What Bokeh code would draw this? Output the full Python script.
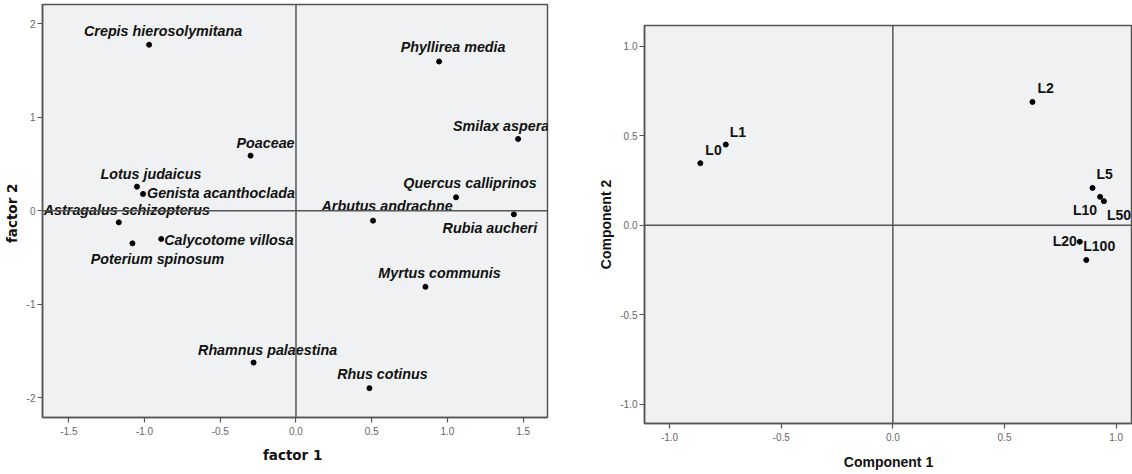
from bokeh.plotting import figure
from bokeh.models import ColumnDataSource, Span, FixedTicker, CustomJSTickFormatter, Range1d, Spacer
from bokeh.layouts import row, column
from bokeh.core.properties import value
from bokeh.embed import file_html
from bokeh.resources import INLINE

# ---------------- data: left panel (species factor scores) ----------------
species = ["Crepis hierosolymitana", "Poaceae", "Lotus judaicus", "Genista acanthoclada",
           "Astragalus schizopterus", "Calycotome  villosa", "Poterium spinosum",
           "Rhamnus palaestina", "Phyllirea media", "Smilax aspera", "Quercus calliprinos",
           "Arbutus andrachne", "Rubia aucheri", "Myrtus communis", "Rhus cotinus"]
factor1 = [-0.97, -0.30, -1.05, -1.01, -1.17, -0.89, -1.08, -0.28, 0.945, 1.467, 1.057,
           0.509, 1.439, 0.855, 0.485]
factor2 = [1.776, 0.589, 0.257, 0.179, -0.125, -0.303, -0.350, -1.626, 1.597, 0.768, 0.143,
           -0.107, -0.039, -0.815, -1.90]
left_xticks = [-1.5, -1.0, -0.5, 0.0, 0.5, 1.0, 1.5]
left_yticks = [-2, -1, 0, 1, 2]

# ---------------- data: right panel (component loadings) ----------------
loadings = ["L0", "L1", "L2", "L5", "L10", "L50", "L20", "L100"]
component1 = [-0.862, -0.748, 0.625, 0.894, 0.928, 0.945, 0.837, 0.866]
component2 = [0.346, 0.450, 0.688, 0.208, 0.158, 0.134, -0.093, -0.195]
right_ticks = [-1.0, -0.5, 0.0, 0.5, 1.0]

# ---------------- label placement (screen px) ----------------
left_dx = [14, 15, 14, 4, 8, 3, 25, 14, 14, -17, 14, 14, -24, 14, 13]
left_dy = [-14, -13, -13, -1, -12, 1, 16, -13, -14, -13, -14, -15, 14, -14, -14]
left_align = ["center", "center", "center", "left", "center", "left", "center", "center",
              "center", "center", "center", "center", "center", "center", "center"]
right_dx = [5, 4, 5, 4, -3, 3, -3, -3]
right_dy = [-13, -13, -14, -14, 13, 14, -1, -14]
right_align = ["left", "left", "left", "left", "right", "left", "right", "left"]

FONT = "Liberation Sans"
BG = "#eff1f2"
LINE = "#555555"


def style(p, xticks, yticks, xfmt, yfmt, xlabel, ylabel, xstand, ystand, lab_font, lab_size):
    p.background_fill_color = BG
    p.border_fill_color = "white"
    p.outline_line_color = LINE
    p.outline_line_width = 1.5
    p.xgrid.visible = False
    p.ygrid.visible = False
    p.xaxis.ticker = FixedTicker(ticks=xticks)
    p.yaxis.ticker = FixedTicker(ticks=yticks)
    p.xaxis.formatter = CustomJSTickFormatter(code=xfmt)
    p.yaxis.formatter = CustomJSTickFormatter(code=yfmt)
    for ax in (p.xaxis[0], p.yaxis[0]):
        ax.axis_line_color = LINE
        ax.axis_line_width = 1.5
        ax.major_tick_line_color = LINE
        ax.major_tick_line_width = 1.2
        ax.major_tick_out = 5
        ax.major_tick_in = 0
        ax.minor_tick_line_color = None
        ax.major_label_text_font = FONT
        ax.major_label_text_font_size = "10px"
        ax.major_label_text_color = "#666666"
        ax.axis_label_text_font = lab_font
        ax.axis_label_text_font_style = "bold"
        ax.axis_label_text_font_size = lab_size
        ax.axis_label_text_color = "#111111"
    p.xaxis.axis_label = xlabel
    p.yaxis.axis_label = ylabel
    p.xaxis.major_label_standoff = 4
    p.yaxis.major_label_standoff = 2
    p.xaxis.axis_label_standoff = xstand
    p.yaxis.axis_label_standoff = ystand
    p.add_layout(Span(location=0, dimension="width", line_color=LINE, line_width=1.5))
    p.add_layout(Span(location=0, dimension="height", line_color=LINE, line_width=1.5))


# ---------------- left figure ----------------
p1 = figure(width=580, height=474, output_backend="svg", toolbar_location=None, title=None,
            x_range=Range1d(-1.674, 1.661), y_range=Range1d(-2.214, 2.207),
            min_border_left=42, min_border_right=33, min_border_top=4, min_border_bottom=57)
style(p1, left_xticks, left_yticks,
      "return tick.toFixed(1);", "return tick.toFixed(0);",
      "factor  1", "factor  2", 9, 4, "DejaVu Sans", "13.5px")
src1 = ColumnDataSource(dict(x=factor1, y=factor2, t=species, dx=left_dx, dy=left_dy, al=left_align))
p1.scatter("x", "y", source=src1, size=5, color="black")
p1.text("x", "y", text="t", source=src1, x_offset="dx", y_offset="dy", text_align="al",
        text_baseline="middle", text_font=value(FONT), text_font_style="bold italic",
        text_font_size="14.3px", text_color="#111111")

# ---------------- right figure ----------------
p2 = figure(width=552, height=453, output_backend="svg", toolbar_location=None, title=None,
            x_range=Range1d(-1.112, 1.073), y_range=Range1d(-1.108, 1.115),
            min_border_left=64, min_border_right=0, min_border_top=4, min_border_bottom=51)
style(p2, right_ticks, right_ticks,
      "return tick.toFixed(1);", "return tick.toFixed(1);",
      "Component 1", "Component 2", 10, 3, FONT, "14px")
src2 = ColumnDataSource(dict(x=component1, y=component2, t=loadings, dx=right_dx, dy=right_dy, al=right_align))
p2.scatter("x", "y", source=src2, size=5, color="black")
p2.text("x", "y", text="t", source=src2, x_offset="dx", y_offset="dy", text_align="al",
        text_baseline="middle", text_font=value(FONT), text_font_style="bold",
        text_font_size="14px", text_color="#111111")

layout = row(column(p1, spacing=0), column(Spacer(width=552, height=21), p2, spacing=0), spacing=0)
open("out.html", "w").write(file_html(layout, INLINE))
